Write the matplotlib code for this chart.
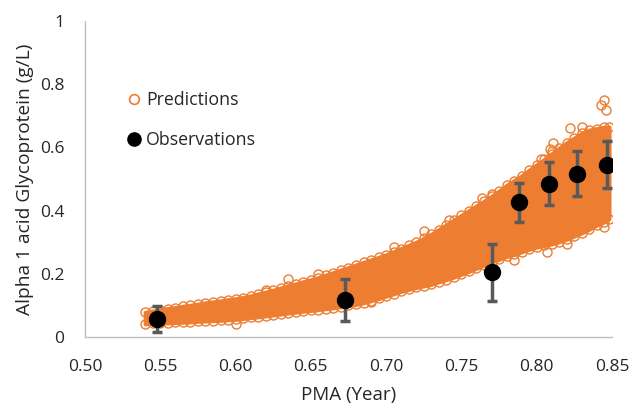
import numpy as np
import matplotlib.pyplot as plt
from matplotlib.lines import Line2D

plt.rcParams['font.family'] = ['Open Sans', 'DejaVu Sans']

ORANGE = '#ED7D31'
GREY = '#595959'

# prediction cloud: upper / lower envelope of the circle centres
pma_env = [0.540, 0.545, 0.550, 0.555, 0.560, 0.565, 0.570, 0.575, 0.580, 0.585,
           0.590, 0.595, 0.600, 0.605, 0.610, 0.615, 0.620, 0.625, 0.630, 0.635,
           0.640, 0.645, 0.650, 0.655, 0.660, 0.665, 0.670, 0.675, 0.680, 0.685,
           0.690, 0.695, 0.700, 0.705, 0.710, 0.715, 0.720, 0.725, 0.730, 0.735,
           0.740, 0.745, 0.750, 0.755, 0.760, 0.765, 0.770, 0.775, 0.780, 0.785,
           0.790, 0.795, 0.800, 0.805, 0.810, 0.815, 0.820, 0.825, 0.830, 0.835,
           0.840, 0.845, 0.848]
pred_upper = [0.078, 0.082, 0.086, 0.090, 0.093, 0.097, 0.100, 0.104, 0.108, 0.111,
              0.114, 0.118, 0.121, 0.125, 0.130, 0.136, 0.142, 0.148, 0.155, 0.161,
              0.168, 0.175, 0.181, 0.188, 0.196, 0.204, 0.212, 0.220, 0.228, 0.236,
              0.244, 0.252, 0.260, 0.270, 0.280, 0.290, 0.300, 0.312, 0.325, 0.340,
              0.355, 0.370, 0.385, 0.400, 0.415, 0.430, 0.445, 0.462, 0.480, 0.495,
              0.510, 0.528, 0.545, 0.562, 0.580, 0.598, 0.615, 0.630, 0.645, 0.655,
              0.660, 0.664, 0.665]
pred_lower = [0.042, 0.043, 0.044, 0.045, 0.046, 0.047, 0.048, 0.050, 0.051, 0.052,
              0.053, 0.055, 0.056, 0.059, 0.062, 0.064, 0.067, 0.070, 0.073, 0.076,
              0.079, 0.082, 0.084, 0.087, 0.090, 0.093, 0.096, 0.100, 0.103, 0.109,
              0.115, 0.122, 0.130, 0.137, 0.145, 0.151, 0.157, 0.162, 0.167, 0.175,
              0.182, 0.190, 0.199, 0.208, 0.218, 0.228, 0.238, 0.246, 0.255, 0.262,
              0.270, 0.278, 0.285, 0.290, 0.295, 0.302, 0.310, 0.320, 0.330, 0.342,
              0.355, 0.365, 0.375]

# scattered predictions outside the dense band
out_x = [0.845, 0.843, 0.846, 0.822, 0.811, 0.810, 0.809, 0.803, 0.770, 0.764,
         0.845, 0.820, 0.807, 0.742, 0.725, 0.705, 0.655, 0.620, 0.600, 0.690,
         0.635, 0.785, 0.830]
out_y = [0.750, 0.735, 0.720, 0.662, 0.615, 0.590, 0.596, 0.565, 0.454, 0.440,
         0.347, 0.296, 0.268, 0.370, 0.335, 0.285, 0.200, 0.150, 0.042, 0.110,
         0.185, 0.245, 0.665]

# observations (mean +/- sd)
obs_x = [0.548, 0.673, 0.770, 0.788, 0.808, 0.827, 0.847]
obs_y = [0.057, 0.117, 0.205, 0.426, 0.486, 0.517, 0.546]
obs_err = [0.041, 0.066, 0.090, 0.062, 0.067, 0.071, 0.073]

fig = plt.figure(figsize=(6.33, 4.07), dpi=100)
ax = fig.add_axes([0.1343, 0.172, 0.8325, 0.776])

circ = dict(ls='none', marker='o', ms=6.5, mfc='none', mec=ORANGE, mew=1.0, zorder=2)
ax.fill_between(pma_env, pred_lower, pred_upper, color=ORANGE, lw=3, zorder=2)
ax.plot(pma_env, pred_upper, **circ)
ax.plot(pma_env, pred_lower, **circ)
ax.plot(out_x, out_y, **circ)

ax.errorbar(obs_x, obs_y, yerr=obs_err, fmt='none', ecolor=GREY, elinewidth=2.5,
            capsize=3.5, capthick=2.5, zorder=3)
ax.plot(obs_x, obs_y, 'o', ms=11.5, color='black', zorder=4)

ax.set_xlim(0.50, 0.85)
ax.set_ylim(0, 1)
ax.set_xticks(np.arange(0.50, 0.851, 0.05))
ax.set_xticklabels(['0.50', '0.55', '0.60', '0.65', '0.70', '0.75', '0.80', '0.85'])
ax.set_yticks([0, 0.2, 0.4, 0.6, 0.8, 1.0])
ax.set_yticklabels(['0', '0.2', '0.4', '0.6', '0.8', '1'])
ax.tick_params(length=0, labelsize=12.5, colors='#262626')
ax.tick_params(axis='x', pad=16)
ax.tick_params(axis='y', pad=15)

for s in ['top', 'right']:
    ax.spines[s].set_visible(False)
for s in ['left', 'bottom']:
    ax.spines[s].set_color('#BFBFBF')
    ax.spines[s].set_linewidth(1)

ax.set_xlabel('PMA (Year)', fontsize=13.5, color='#262626', labelpad=8)
ax.set_ylabel('Alpha 1 acid Glycoprotein (g/L)', fontsize=13.8, color='#262626', labelpad=4)

handles = [Line2D([], [], ls='none', marker='o', ms=7, mfc='none', mec=ORANGE, mew=1.2),
           Line2D([], [], ls='none', marker='o', ms=9.5, color='black')]
ax.legend(handles, ['Predictions', 'Observations'], loc='upper left',
          bbox_to_anchor=(0.052, 0.83), frameon=False, fontsize=12.8,
          handlelength=0.6, handletextpad=0.4, labelspacing=1.25, labelcolor='#262626')

fig.savefig('out.png', dpi=100)
